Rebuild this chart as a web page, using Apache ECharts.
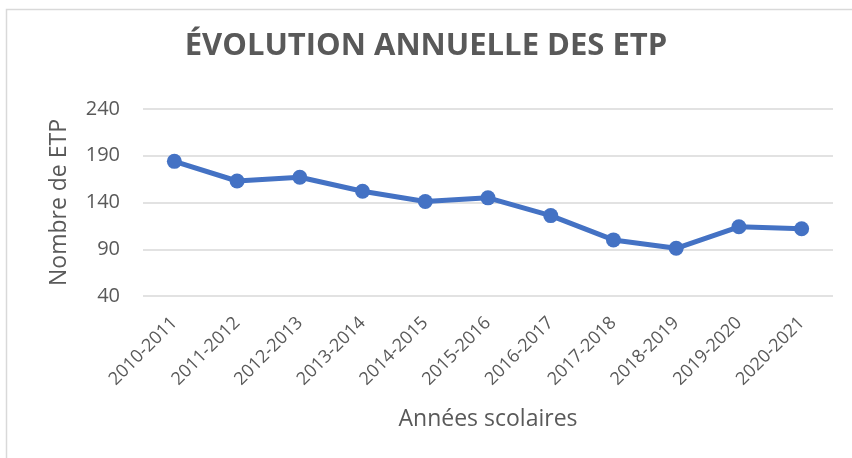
<!DOCTYPE html>
<html>
<head>
<meta charset="UTF-8">
<title>Évolution annuelle des ETP</title>
<script src="https://cdn.jsdelivr.net/npm/echarts@6/dist/echarts.min.js"></script>
<style>
  html, body { margin: 0; padding: 0; background: #fff; }
  #main { width: 852px; height: 458px; }
</style>
</head>
<body>
<div id="main"></div>
<script>
// années scolaires (axe x)
var annees = ['2010-2011', '2011-2012', '2012-2013', '2013-2014', '2014-2015', '2015-2016',
              '2016-2017', '2017-2018', '2018-2019', '2019-2020', '2020-2021'];
// nombre d'ETP
var etp = [184, 163, 167, 152, 141, 145, 126, 100, 91, 114, 112];
// graduations de l'axe y
var yMin = 40, yMax = 240, yPas = 50;

var police = "'Open Sans', sans-serif";
var gris = '#595959';

var myChart = echarts.init(document.getElementById('main'));

option = {
    backgroundColor: '#fff',
    animation: false,
    title: {
        text: 'ÉVOLUTION ANNUELLE DES ETP',
        left: 'center',
        top: 26,
        textStyle: { fontFamily: police, fontSize: 31, fontWeight: 'bold', color: gris }
    },
    graphic: [{
        type: 'rect',
        shape: { x: 6.5, y: 9.5, width: 850, height: 460 },
        style: { fill: 'none', stroke: '#d9d9d9', lineWidth: 1.5 },
        silent: true
    }],
    grid: { left: 143, right: 19, top: 109, bottom: 162 },
    xAxis: {
        type: 'category',
        data: annees,
        name: 'Années scolaires',
        nameLocation: 'middle',
        nameGap: 112,
        nameTextStyle: { fontFamily: police, fontSize: 23, color: gris },
        axisLine: { show: false },
        axisTick: { show: false },
        axisLabel: { rotate: 45, fontFamily: police, fontSize: 18, color: gris, margin: 24 }
    },
    yAxis: {
        type: 'value',
        min: yMin,
        max: yMax,
        interval: yPas,
        name: 'Nombre de ETP',
        nameLocation: 'middle',
        nameGap: 72,
        nameTextStyle: { fontFamily: police, fontSize: 23, color: gris },
        axisLine: { show: false },
        axisTick: { show: false },
        axisLabel: { fontFamily: police, fontSize: 20, color: gris, margin: 23 },
        splitLine: { lineStyle: { color: '#d9d9d9', width: 1.5 } }
    },
    series: [{
        name: 'ETP',
        type: 'line',
        data: etp,
        symbol: 'circle',
        symbolSize: 15,
        itemStyle: { color: '#4472c4' },
        lineStyle: { color: '#4472c4', width: 5 }
    }]
};
myChart.setOption(option);
</script>
</body>
</html>
